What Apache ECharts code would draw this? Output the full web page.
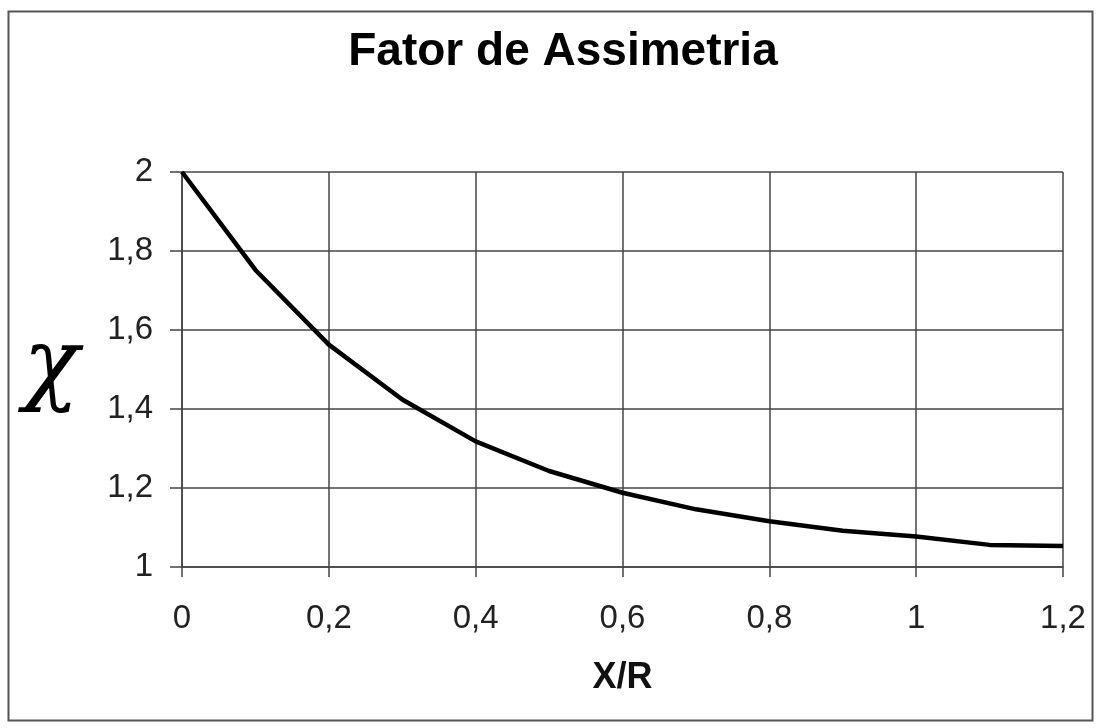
<!DOCTYPE html>
<html><head><meta charset="utf-8">
<script src="https://cdn.jsdelivr.net/npm/echarts@6/dist/echarts.min.js"></script>
<style>html,body{margin:0;padding:0;background:#fff}#c{width:1103px;height:728px}</style>
</head><body><div id="c"></div>
<script>
const xValues = [0, 0.1, 0.2, 0.3, 0.4, 0.5, 0.6, 0.7, 0.8, 0.9, 1.0, 1.1, 1.2];
const chiValues = [2.0, 1.752, 1.563, 1.424, 1.318, 1.243, 1.188, 1.146, 1.116, 1.092, 1.077, 1.056, 1.053];
const titleText = 'Fator de Assimetria';
const xName = 'X/R';
const yName = 'χ';

const chart = echarts.init(document.getElementById('c'));
const fmt = v => String(+v.toFixed(1)).replace('.', ',');
chart.setOption({
  animation: false,
  backgroundColor: '#fff',
  title: {
    text: titleText, left: 558, top: 24, textAlign: 'center',
    textStyle: { fontFamily: 'Liberation Sans', fontWeight: 'bold', fontSize: 46, color: '#000' }
  },
  graphic: [{
    type: 'rect', shape: { x: 8.5, y: 11.5, width: 1084, height: 709 },
    style: { fill: 'none', stroke: '#555', lineWidth: 2 }, z: -1
  }],
  grid: { left: 182, right: 40, top: 172, bottom: 161 },
  xAxis: {
    type: 'value', min: 0, max: 1.2, interval: 0.2,
    name: xName, nameLocation: 'middle', nameGap: 93,
    nameTextStyle: { fontFamily: 'Liberation Sans', fontWeight: 'bold', fontSize: 36, color: '#111' },
    axisLine: { lineStyle: { color: '#444', width: 1.5 } },
    axisTick: { show: true, length: 10, lineStyle: { color: '#444', width: 1.5 } },
    axisLabel: { formatter: fmt, margin: 35, fontFamily: 'Liberation Sans', fontSize: 33, color: '#222' },
    splitLine: { show: true, lineStyle: { color: '#444', width: 1.5 } }
  },
  yAxis: {
    type: 'value', min: 1, max: 2, interval: 0.2,
    name: yName, nameLocation: 'middle', nameRotate: 0, nameGap: 103,
    nameTextStyle: { fontFamily: 'DejaVu Serif', fontStyle: 'italic', fontSize: 92, color: '#000', padding: [0, 0, 46, 0] },
    axisLine: { show: true, lineStyle: { color: '#444', width: 1.5 } },
    axisTick: { show: true, length: 12, lineStyle: { color: '#444', width: 1.5 } },
    axisLabel: { formatter: fmt, margin: 29, fontFamily: 'Liberation Sans', fontSize: 33, color: '#222' },
    splitLine: { show: true, lineStyle: { color: '#444', width: 1.5 } }
  },
  series: [{
    type: 'line', data: xValues.map((x, i) => [x, chiValues[i]]),
    showSymbol: false, symbol: 'none', smooth: false,
    lineStyle: { color: '#000', width: 4.5 }, clip: false
  }]
});
</script></body></html>
